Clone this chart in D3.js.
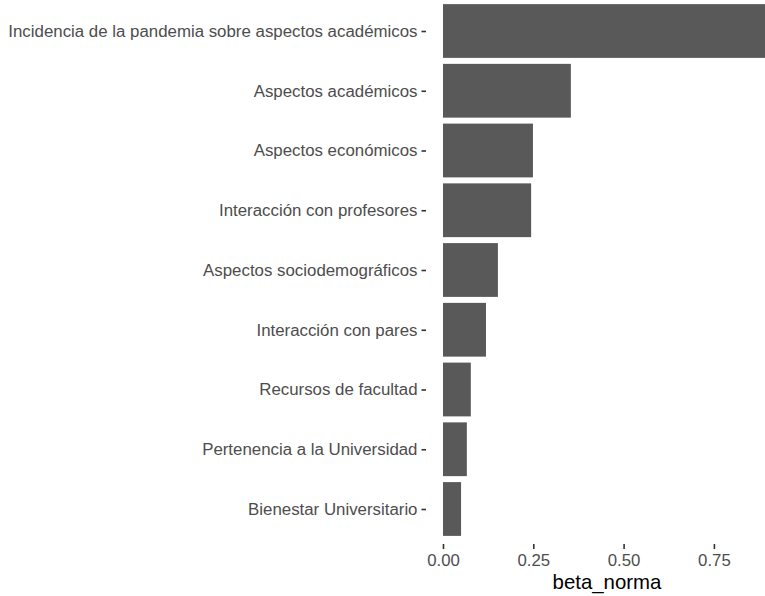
<!DOCTYPE html>
<html>
<head>
<meta charset="utf-8">
<script src="https://cdn.jsdelivr.net/npm/d3@7"></script>
<style>
html,body{margin:0;padding:0;background:#fff;}
svg{display:block;}
</style>
</head>
<body>
<svg id="chart" width="765" height="596"></svg>
<script>
const categories = [
  "Incidencia de la pandemia sobre aspectos académicos",
  "Aspectos académicos",
  "Aspectos económicos",
  "Interacción con profesores",
  "Aspectos sociodemográficos",
  "Interacción con pares",
  "Recursos de facultad",
  "Pertenencia a la Universidad",
  "Bienestar Universitario"
];
const values = [0.90, 0.354, 0.249, 0.244, 0.152, 0.119, 0.077, 0.066, 0.050];
const xTicks = [0, 0.25, 0.5, 0.75];
const xTitle = "beta_norma";

const svg = d3.select("#chart");
const x = d3.scaleLinear().domain([0, 0.25]).range([443, 533.3]);
const y = d3.scalePoint().domain(categories).range([31, 509]);
const step = y.step();
const barH = step * 0.9;

svg.append("g").selectAll("rect")
  .data(categories)
  .join("rect")
  .attr("x", x(0))
  .attr("y", d => y(d) - barH / 2)
  .attr("width", (d, i) => x(values[i]) - x(0))
  .attr("height", barH)
  .attr("fill", "#595959");

const fontFam = "'Liberation Sans', Arial, sans-serif";

// y axis
const yAxis = d3.axisLeft(y).tickSize(4.5).tickPadding(4);
const gy = svg.append("g").attr("transform", "translate(426,0)").call(yAxis);
gy.select(".domain").remove();
gy.selectAll(".tick line").attr("stroke", "#333333").attr("stroke-width", 1.6);
gy.selectAll(".tick text").attr("fill", "#4d4d4d")
  .style("font-family", fontFam).style("font-size", "16.85px");

// x axis
const xAxis = d3.axisBottom(x).tickValues(xTicks).tickFormat(d3.format(".2f")).tickSize(5).tickPadding(4.8);
const gx = svg.append("g").attr("transform", "translate(0,544)").call(xAxis);
gx.select(".domain").remove();
gx.selectAll(".tick line").attr("stroke", "#333333").attr("stroke-width", 1.6);
gx.selectAll(".tick text").attr("fill", "#4d4d4d")
  .style("font-family", fontFam).style("font-size", "16.8px");

svg.append("text")
  .attr("x", 607)
  .attr("y", 589)
  .attr("text-anchor", "middle")
  .attr("fill", "#000")
  .style("font-family", fontFam)
  .style("font-size", "20.4px")
  .text(xTitle);
</script>
</body>
</html>
